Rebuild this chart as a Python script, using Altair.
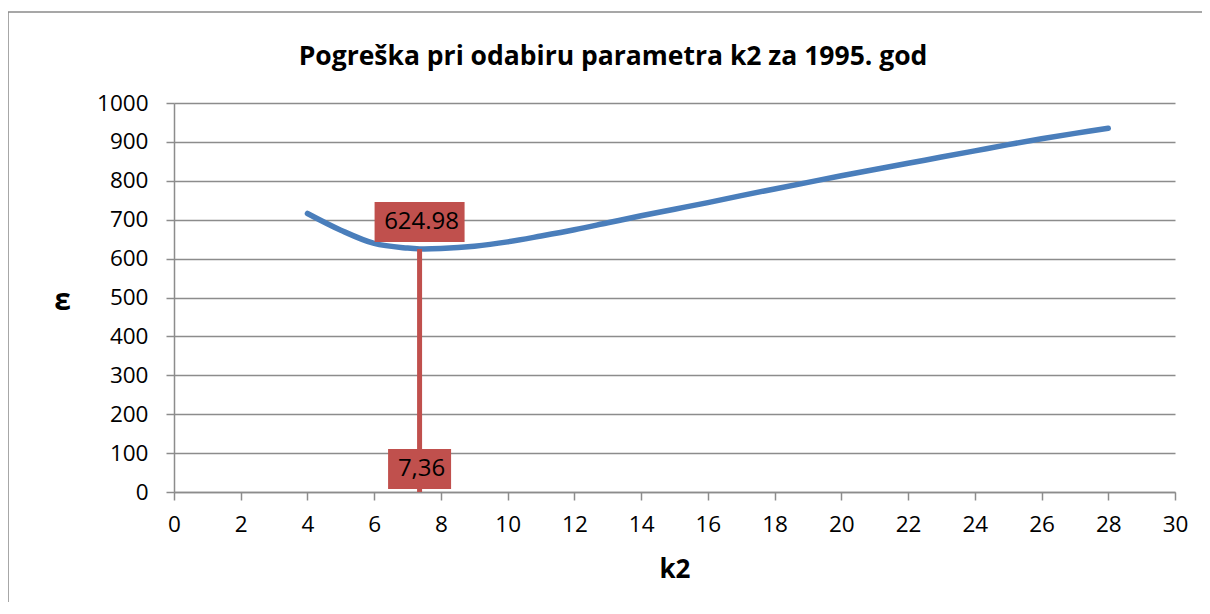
import altair as alt
import pandas as pd

# ---- data ----
k2_values = [4, 5, 6, 7, 7.36, 8, 9, 10, 11, 12, 13, 14, 15, 16, 17, 18, 19, 20,
             21, 22, 23, 24, 25, 26, 27, 28]
err_values = [716, 673, 639, 627, 625, 626, 632, 643, 658, 674, 692, 710, 727, 744,
              762, 779, 796, 813, 829, 845, 861, 877, 893, 908, 922, 935]
min_k2 = [7.36]
min_err = [624.98]
min_err_label = ["624.98"]
min_k2_label = ["7,36"]
x_ticks = list(range(0, 31, 2))
y_ticks = list(range(0, 1001, 100))
chart_title = ["Pogreška pri odabiru parametra k2 za 1995. god"]

FONT = "Open Sans"
BLUE = "#4A7EBB"
RED = "#C0504D"
GRID = "#8c8c8c"

curve = pd.DataFrame({"k2": k2_values, "eps": err_values})
marker = pd.DataFrame({"k2": min_k2, "eps": min_err, "zero": [0],
                       "lab_eps": min_err_label, "lab_k2": min_k2_label})
title_df = pd.DataFrame({"t": chart_title})

x_scale = alt.Scale(domain=[0, 30], nice=False)
y_scale = alt.Scale(domain=[0, 1000], nice=False)

x_axis = alt.Axis(values=x_ticks, title="k2", grid=False, format="d", labelFlush=False,
                  titleFontSize=26, titleFontWeight="bold", titleY=77,
                  titleBaseline="middle", labelPadding=13)
y_axis = alt.Axis(values=y_ticks, title="ε", grid=True, gridColor=GRID, gridWidth=1.5,
                  format="d", labelFlush=False, titleAngle=0, titleX=-112, titleY=197,
                  titleAlign="center", titleBaseline="middle", titleFontSize=30,
                  titleFontWeight="bold", labelPadding=18)


def X(field):
    return alt.X(field, type="quantitative", scale=x_scale, axis=x_axis)


def Y(field):
    return alt.Y(field, type="quantitative", scale=y_scale, axis=y_axis)


frame = alt.Chart(marker).mark_rect(fill=None, stroke="#8a8a8a", strokeWidth=1.5).encode(
    x=alt.value(-166), x2=alt.value(1060), y=alt.value(-91), y2=alt.value(560)
)

title = alt.Chart(title_df).mark_text(
    font=FONT, fontSize=26.5, fontWeight="bold", color="black",
    align="center", baseline="alphabetic",
).encode(x=alt.value(439), y=alt.value(-38), text="t:N")

line = alt.Chart(curve).mark_line(color=BLUE, strokeWidth=5.5, strokeCap="round",
                                  interpolate="catmull-rom").encode(
    x=X("k2"), y=Y("eps")
)

rule = alt.Chart(marker).mark_rule(color=RED, strokeWidth=5).encode(
    x=X("k2"), y=Y("zero"), y2="eps:Q"
)

box_top = alt.Chart(marker).mark_rect(color=RED, width=90, height=40, yOffset=-27).encode(
    x=X("k2"), y=Y("eps")
)
text_top = alt.Chart(marker).mark_text(font=FONT, fontSize=24, color="black",
                                       baseline="middle", yOffset=-27, dx=2).encode(
    x=X("k2"), y=Y("eps"), text="lab_eps:N"
)
box_bot = alt.Chart(marker).mark_rect(color=RED, width=63, height=40, yOffset=-23).encode(
    x=X("k2"), y=Y("zero")
)
text_bot = alt.Chart(marker).mark_text(font=FONT, fontSize=24, color="black",
                                       baseline="middle", yOffset=-23, dx=2).encode(
    x=X("k2"), y=Y("zero"), text="lab_k2:N"
)

chart = alt.layer(frame, title, line, rule, box_top, text_top, box_bot, text_bot).properties(
    width=1001,
    height=389,
    background="white",
    autosize=alt.AutoSizeParams(type="none"),
    padding={"left": 166, "top": 95, "right": 27, "bottom": 110},
).configure_view(stroke=None).configure_axis(
    domainColor=GRID, domainWidth=1.5, tickColor=GRID, tickWidth=1.5, tickSize=8,
    labelFont=FONT, labelFontSize=22.5, labelColor="black",
    titleFont=FONT, titleColor="black",
)

chart.save("out.html", embed_options={"renderer": "svg", "actions": False})
